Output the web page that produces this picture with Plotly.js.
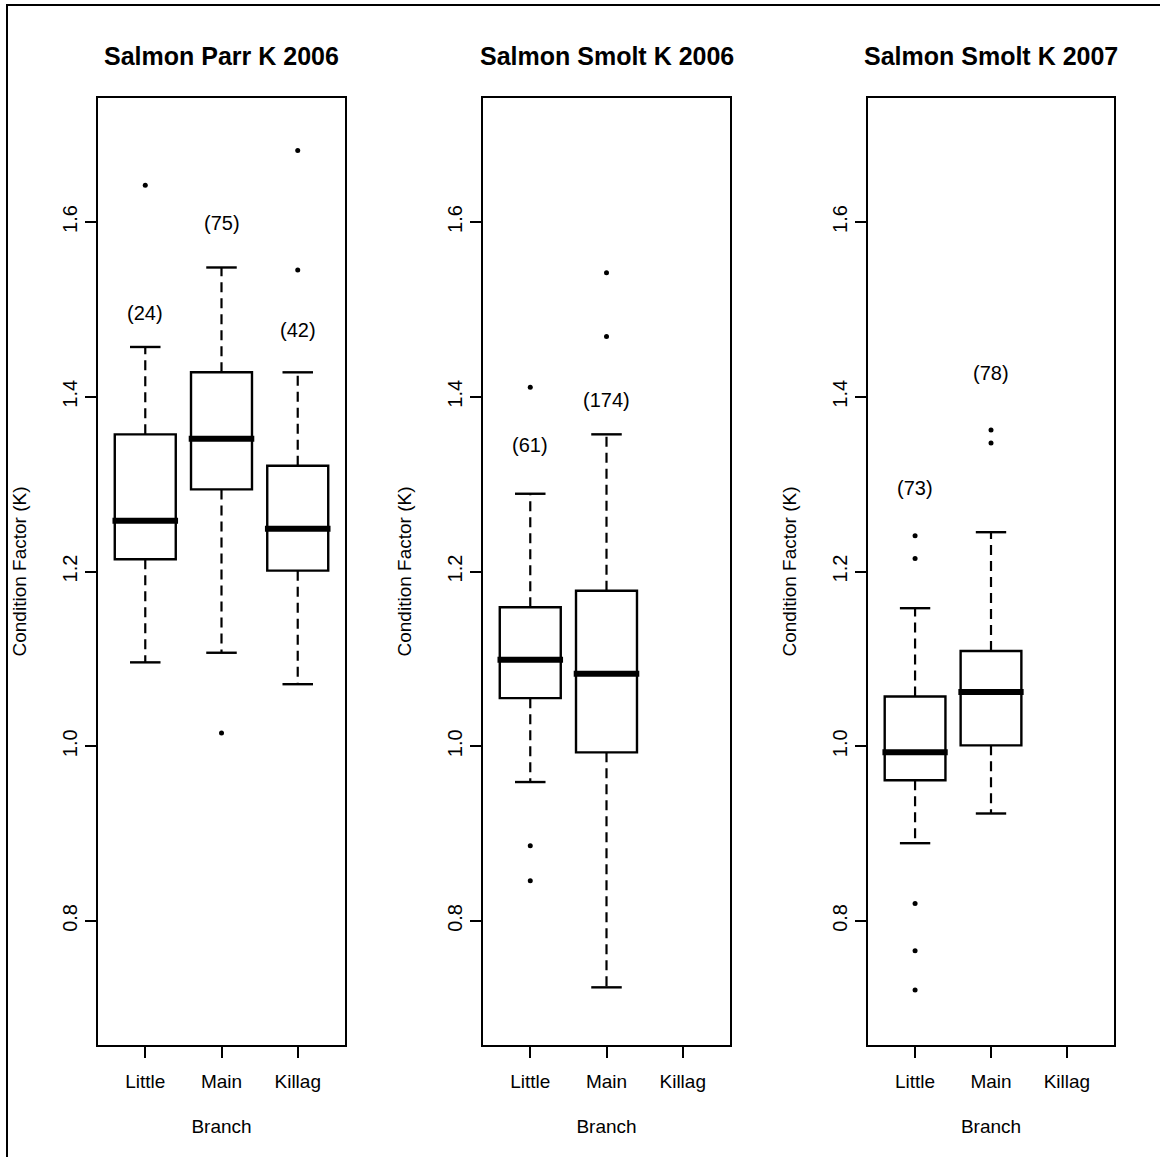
<!DOCTYPE html>
<html>
<head>
<meta charset="utf-8">
<script src="https://cdn.plot.ly/plotly-3.0.1.min.js"></script>
<style>
  html, body { margin: 0; padding: 0; background: #fff; }
  #chart { width: 1160px; height: 1157px; }
</style>
</head>
<body>
<div id="chart"></div>
<script>
// ---------------- DATA ----------------
const categories = ['Little', 'Main', 'Killag'];
const panelTitles = ['Salmon Parr K 2006', 'Salmon Smolt K 2006', 'Salmon Smolt K 2007'];
const yTickVals = [0.8, 1.0, 1.2, 1.4, 1.6];
const yTickText = ['0.8', '1.0', '1.2', '1.4', '1.6'];

// Salmon Parr K 2006 (Little, Main, Killag)
const parr06_q1     = [1.214, 1.294, 1.201];
const parr06_median = [1.258, 1.352, 1.249];
const parr06_q3     = [1.357, 1.428, 1.321];
const parr06_lower  = [1.096, 1.107, 1.071];
const parr06_upper  = [1.457, 1.548, 1.428];
const parr06_outCat = ['Little', 'Main', 'Killag', 'Killag'];
const parr06_outVal = [1.642, 1.015, 1.682, 1.545];
const parr06_n      = [24, 75, 42];
const parr06_labelY = [1.496, 1.599, 1.476];

// Salmon Smolt K 2006 (Little, Main)
const smolt06_q1     = [1.055, 0.993];
const smolt06_median = [1.099, 1.083];
const smolt06_q3     = [1.159, 1.178];
const smolt06_lower  = [0.959, 0.724];
const smolt06_upper  = [1.289, 1.357];
const smolt06_outCat = ['Little', 'Little', 'Little', 'Main', 'Main'];
const smolt06_outVal = [1.411, 0.886, 0.846, 1.542, 1.469];
const smolt06_n      = [61, 174];
const smolt06_labelY = [1.345, 1.396];

// Salmon Smolt K 2007 (Little, Main)
const smolt07_q1     = [0.961, 1.001];
const smolt07_median = [0.993, 1.062];
const smolt07_q3     = [1.057, 1.109];
const smolt07_lower  = [0.889, 0.923];
const smolt07_upper  = [1.158, 1.245];
const smolt07_outCat = ['Little', 'Little', 'Little', 'Little', 'Little', 'Main', 'Main'];
const smolt07_outVal = [1.241, 1.215, 0.820, 0.766, 0.721, 1.362, 1.347];
const smolt07_n      = [73, 78];
const smolt07_labelY = [1.296, 1.427];

// ---------------- STYLE / LAYOUT ----------------
const FONT = 'Liberation Sans, Arial, Helvetica, sans-serif';
const W = 1160, H = 1157;
const xDomains = [[98 / W, 345 / W], [483 / W, 730 / W], [868 / W, 1114 / W]];
const yDomain = [1 - 1045 / H, 1 - 98 / H];
const BOXW = 0.8, CAPW = 0.4;

const panels = [
  {q1: parr06_q1, med: parr06_median, q3: parr06_q3, lo: parr06_lower, hi: parr06_upper,
   oc: parr06_outCat, ov: parr06_outVal, n: parr06_n, ly: parr06_labelY},
  {q1: smolt06_q1, med: smolt06_median, q3: smolt06_q3, lo: smolt06_lower, hi: smolt06_upper,
   oc: smolt06_outCat, ov: smolt06_outVal, n: smolt06_n, ly: smolt06_labelY},
  {q1: smolt07_q1, med: smolt07_median, q3: smolt07_q3, lo: smolt07_lower, hi: smolt07_upper,
   oc: smolt07_outCat, ov: smolt07_outVal, n: smolt07_n, ly: smolt07_labelY}
];

const pos = c => categories.indexOf(c) + 1;

const traces = [];
const annotations = [];
const layout = {
  width: W, height: H,
  margin: {l: 0, r: 0, t: 0, b: 0, pad: 0},
  paper_bgcolor: '#fff', plot_bgcolor: '#fff',
  showlegend: false,
  font: {family: FONT, color: '#000', size: 19},
  shapes: [{
    type: 'rect', xref: 'paper', yref: 'paper',
    x0: 7 / W, x1: 1.05, y0: -0.05, y1: 1 - 5 / H,
    line: {color: '#000', width: 2}, fillcolor: 'rgba(0,0,0,0)', layer: 'below'
  }],
  annotations: annotations
};

panels.forEach((p, k) => {
  const sfx = k === 0 ? '' : String(k + 1);
  const xa = 'x' + sfx, ya = 'y' + sfx;
  const nb = p.q1.length;
  const xs = categories.slice(0, nb).map(pos);

  const wx = [], wy = [];
  const cx = [], cy = [];
  const mx = [], my = [];
  for (let i = 0; i < nb; i++) {
    const x = xs[i];
    wx.push(x, x, null, x, x, null);
    wy.push(p.q3[i], p.hi[i], null, p.q1[i], p.lo[i], null);
    cx.push(x - CAPW / 2, x + CAPW / 2, null, x - CAPW / 2, x + CAPW / 2, null);
    cy.push(p.hi[i], p.hi[i], null, p.lo[i], p.lo[i], null);
    mx.push(x - BOXW / 2 - 0.03, x + BOXW / 2 + 0.03, null);
    my.push(p.med[i], p.med[i], null);
    annotations.push({
      xref: xa, yref: ya, x: x, y: p.ly[i], text: '(' + p.n[i] + ')',
      showarrow: false, font: {family: FONT, size: 20, color: '#000'},
      xanchor: 'center', yanchor: 'middle'
    });
  }
  traces.push({
    type: 'scatter', mode: 'lines', x: wx, y: wy, xaxis: xa, yaxis: ya,
    line: {color: '#000', width: 2.2, dash: '10px,6px'}, hoverinfo: 'skip'
  });
  traces.push({
    type: 'box', x: xs, q1: p.q1, median: p.med, q3: p.q3,
    lowerfence: p.q1, upperfence: p.q3, width: BOXW, whiskerwidth: 0,
    xaxis: xa, yaxis: ya, fillcolor: '#fff',
    line: {color: '#000', width: 2.4}, hoverinfo: 'skip', boxpoints: false
  });
  traces.push({
    type: 'scatter', mode: 'lines', x: cx, y: cy, xaxis: xa, yaxis: ya,
    line: {color: '#000', width: 2.4}, hoverinfo: 'skip'
  });
  traces.push({
    type: 'scatter', mode: 'lines', x: mx, y: my, xaxis: xa, yaxis: ya,
    line: {color: '#000', width: 6}, hoverinfo: 'skip'
  });
  traces.push({
    type: 'scatter', mode: 'markers', x: p.oc.map(pos), y: p.ov, xaxis: xa, yaxis: ya,
    marker: {color: '#000', size: 5}, hoverinfo: 'skip'
  });

  layout['xaxis' + sfx] = {
    domain: xDomains[k], anchor: ya, range: [0.38, 3.62],
    tickvals: [1, 2, 3], ticktext: categories,
    ticks: 'outside', ticklen: 11, tickwidth: 2, tickcolor: '#000',
    ticklabelstandoff: 7,
    showline: true, mirror: true, linewidth: 2.4, linecolor: '#000',
    showgrid: false, zeroline: false, fixedrange: true,
    tickfont: {family: FONT, size: 19, color: '#000'},
    title: {text: 'Branch', font: {family: FONT, size: 19, color: '#000'}, standoff: 29}
  };
  layout['yaxis' + sfx] = {
    domain: yDomain, anchor: xa, range: [0.658, 1.742],
    tickvals: yTickVals, ticktext: yTickText, tickangle: -90,
    ticks: 'outside', ticklen: 11, tickwidth: 2, tickcolor: '#000',
    showline: true, mirror: true, linewidth: 2.4, linecolor: '#000',
    showgrid: false, zeroline: false, fixedrange: true,
    tickfont: {family: FONT, size: 20, color: '#000'},
    title: {text: 'Condition Factor (K)', font: {family: FONT, size: 19, color: '#000'}, standoff: 27}
  };

  annotations.push({
    xref: 'paper', yref: 'paper',
    x: (xDomains[k][0] + xDomains[k][1]) / 2, y: 1 - 56 / H,
    text: '<b>' + panelTitles[k] + '</b>', showarrow: false,
    font: {family: FONT, size: 25, color: '#000'},
    xanchor: 'center', yanchor: 'middle'
  });
});

Plotly.newPlot('chart', traces, layout, {staticPlot: true, displayModeBar: false});
</script>
</body>
</html>
